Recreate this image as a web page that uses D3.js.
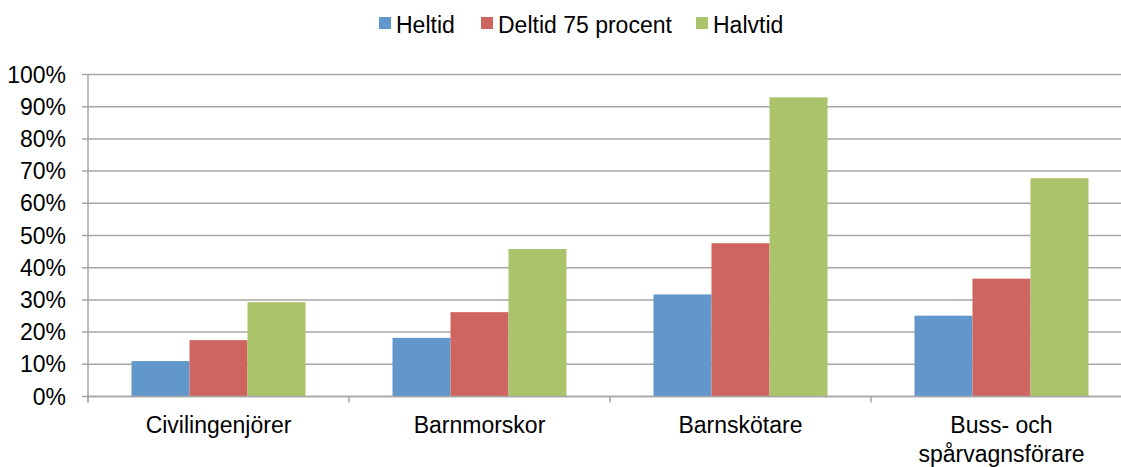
<!DOCTYPE html>
<html lang="sv">
<head>
  <meta charset="UTF-8">
  <title>Heltid, deltid och halvtid</title>
  <script src="https://d3js.org/d3.v7.min.js"></script>
  <style>
    body { margin: 0; background: #fff; overflow: hidden; }
    svg text { font-family: "Liberation Sans", Arial, sans-serif; fill: #000; }
  </style>
</head>
<body>
<svg id="chart" width="1121" height="467"></svg>
<script>
  // Data
  const categories = ["Civilingenjörer", "Barnmorskor", "Barnskötare", "Buss- och\nspårvagnsförare"];
  const seriesNames = ["Heltid", "Deltid 75 procent", "Halvtid"];
  const heltid = [11.0, 18.2, 31.7, 25.1];
  const deltid75 = [17.5, 26.2, 47.6, 36.6];
  const halvtid = [29.3, 45.8, 92.9, 67.8];
  const yTicks = [0, 10, 20, 30, 40, 50, 60, 70, 80, 90, 100];
  const colors = ["#6297CB", "#CE6560", "#ABC46B"];

  const seriesValues = [heltid, deltid75, halvtid];
  // the plot area runs a little past the right edge of the picture
  const margin = { top: 74.5, right: -11, bottom: 70.5, left: 88 };
  const width = 1121, height = 467;
  const fontSize = "23px";

  const svg = d3.select("#chart");

  const x = d3.scaleBand()
    .domain(categories)
    .range([margin.left, width - margin.right])
    .paddingInner(0)
    .paddingOuter(0);

  const x1 = d3.scaleBand()
    .domain(seriesNames)
    .range([0, x.bandwidth()])
    .paddingOuter(0.75)
    .paddingInner(0);

  const y = d3.scaleLinear()
    .domain([0, 100])
    .range([height - margin.bottom, margin.top]);

  // gridlines + y ticks
  svg.append("g")
    .selectAll("line")
    .data(yTicks)
    .join("line")
    .attr("x1", margin.left - 6)
    .attr("x2", width - margin.right)
    .attr("y1", d => y(d))
    .attr("y2", d => y(d))
    .attr("stroke", "#A6A6A6")
    .attr("stroke-width", 1.5);

  svg.append("g")
    .selectAll("text")
    .data(yTicks)
    .join("text")
    .attr("x", 66)
    .attr("y", d => y(d) + 8)
    .attr("text-anchor", "end")
    .style("font-size", fontSize)
    .text(d => d + "%");

  // bars
  const groups = svg.append("g")
    .selectAll("g")
    .data(categories)
    .join("g")
    .attr("transform", d => `translate(${x(d)},0)`);

  groups.selectAll("rect")
    .data((d, i) => seriesNames.map((s, j) => ({ s, v: seriesValues[j][i], j })))
    .join("rect")
    .attr("x", d => x1(d.s))
    .attr("y", d => y(d.v))
    .attr("width", x1.bandwidth())
    .attr("height", d => y(0) - y(d.v))
    .attr("fill", d => colors[d.j]);

  // axes lines
  svg.append("line")
    .attr("x1", margin.left).attr("x2", margin.left)
    .attr("y1", y(100)).attr("y2", y(0) + 6)
    .attr("stroke", "#A6A6A6").attr("stroke-width", 1.5);

  svg.append("line")
    .attr("x1", margin.left).attr("x2", width - margin.right)
    .attr("y1", y(0)).attr("y2", y(0))
    .attr("stroke", "#A6A6A6").attr("stroke-width", 1.5);

  const catEdges = categories.map(c => x(c)).concat([x(categories[categories.length - 1]) + x.bandwidth()]);
  svg.append("g")
    .selectAll("line")
    .data(catEdges)
    .join("line")
    .attr("x1", d => d).attr("x2", d => d)
    .attr("y1", y(0)).attr("y2", y(0) + 6)
    .attr("stroke", "#A6A6A6").attr("stroke-width", 1.5);

  // category labels
  svg.append("g")
    .selectAll("text")
    .data(categories)
    .join("text")
    .attr("x", d => x(d) + x.bandwidth() / 2)
    .attr("y", 433)
    .attr("text-anchor", "middle")
    .style("font-size", fontSize)
    .each(function (d) {
      const lines = d.split("\n");
      d3.select(this).selectAll("tspan")
        .data(lines)
        .join("tspan")
        .attr("x", x(d) + x.bandwidth() / 2)
        .attr("dy", (l, i) => i === 0 ? 0 : 28.5)
        .text(l => l);
    });

  // legend
  const legendX = [379, 481, 696];
  const legend = svg.append("g")
    .selectAll("g")
    .data(seriesNames)
    .join("g")
    .attr("transform", (d, i) => `translate(${legendX[i]},17)`);

  legend.append("rect")
    .attr("width", 12).attr("height", 12)
    .attr("fill", (d, i) => colors[i]);

  legend.append("text")
    .attr("x", 17)
    .attr("y", 16)
    .style("font-size", fontSize)
    .text(d => d);
</script>
</body>
</html>
